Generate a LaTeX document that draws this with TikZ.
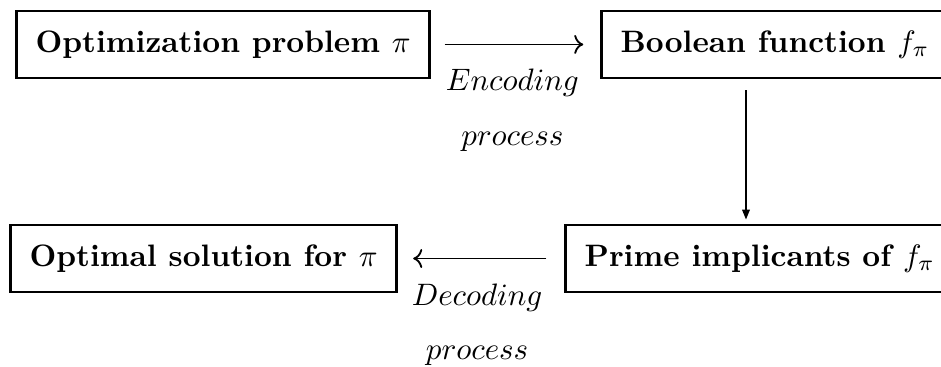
\documentclass[tikz,border=0pt]{standalone}
\usetikzlibrary{arrows.meta}
\tikzset{
  procbox/.style={draw, line width=0.9pt, font=\bfseries, inner xsep=6.2pt, minimum height=0.76cm, anchor=west},
  flow/.style={line width=0.6pt}
}
\begin{document}
\begin{tikzpicture}
  \useasboundingbox (0,0) rectangle (10.669,4.161);
  % Top row
  \node[procbox] (opt) at (0.170,3.657) {Optimization problem $\pi$};
  \node[procbox] (bool) at (6.803,3.657) {Boolean function $f_\pi$};
  % Bottom row
  \node[procbox] (sol) at (0.102,1.230) {Optimal solution for $\pi$};
  \node[procbox] (prime) at (6.395,1.230) {Prime implicants of $f_\pi$};
  % Process labels
  \node[anchor=base] (enc) at (5.81,3.13) {$Encoding$};
  \node[anchor=base] (encp) at (5.81,2.51) {$process$};
  \node[anchor=base] (dec) at (5.41,0.70) {$Decoding$};
  \node[anchor=base] (decp) at (5.41,0.08) {$process$};
  % Arrows
  \coordinate (turn) at (8.458,0);
  \draw[flow, ->, shorten <=0.15cm, shorten >=0.19cm] (opt) -- (bool);
  \draw[flow, -{Triangle[length=3.2pt,width=2.4pt]}, shorten <=0.125cm, shorten >=0.045cm] (bool.south -| turn) -- (prime.north -| turn);
  \draw[flow, ->, shorten <=0.2cm, shorten >=0.17cm] (prime) -- (sol);
\end{tikzpicture}
\end{document}
